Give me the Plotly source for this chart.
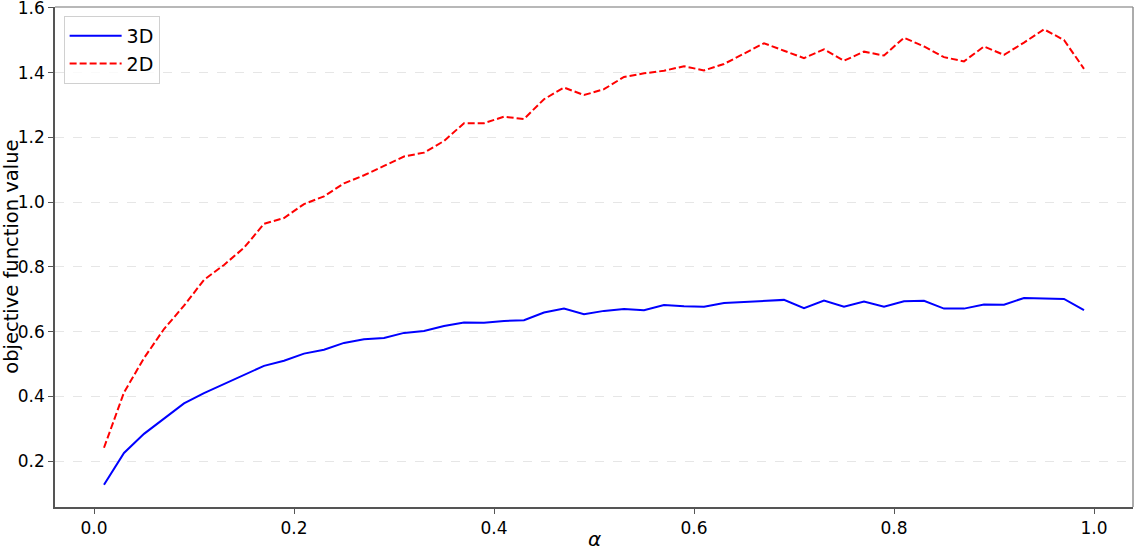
import plotly.graph_objects as go

alpha = [round(0.01 + 0.02 * i, 2) for i in range(50)]

obj_3d = [0.127, 0.225, 0.284, 0.33, 0.378, 0.41, 0.438, 0.464, 0.494, 0.51,
          0.532, 0.544, 0.565, 0.576, 0.58, 0.596, 0.602, 0.617, 0.628, 0.627,
          0.633, 0.635, 0.659, 0.671, 0.654, 0.664, 0.67, 0.666, 0.682, 0.678,
          0.677, 0.688, 0.691, 0.693, 0.698, 0.672, 0.696, 0.677, 0.693, 0.677,
          0.694, 0.695, 0.671, 0.671, 0.684, 0.683, 0.704, 0.702, 0.701, 0.666]

obj_2d = [0.241, 0.412, 0.518, 0.608, 0.68, 0.76, 0.806, 0.859, 0.933, 0.951,
          0.994, 1.018, 1.058, 1.083, 1.112, 1.141, 1.153, 1.189, 1.244, 1.244,
          1.264, 1.257, 1.318, 1.354, 1.331, 1.349, 1.387, 1.398, 1.406, 1.42,
          1.407, 1.427, 1.459, 1.491, 1.468, 1.445, 1.472, 1.437, 1.465, 1.453,
          1.508, 1.481, 1.448, 1.435, 1.481, 1.455, 1.493, 1.534, 1.501, 1.412]

x_ticks = [0.0, 0.2, 0.4, 0.6, 0.8, 1.0]
y_ticks = [0.2, 0.4, 0.6, 0.8, 1.0, 1.2, 1.4, 1.6]

fig = go.Figure()
fig.add_trace(go.Scatter(x=alpha, y=obj_3d, mode="lines", name="3D",
                         line=dict(color="blue", width=2)))
fig.add_trace(go.Scatter(x=alpha, y=obj_2d, mode="lines", name="2D",
                         line=dict(color="red", width=2, dash="7px,3px")))

font_family = "DejaVu Sans"
fig.update_layout(
    width=1136, height=548,
    margin=dict(l=55, r=3, t=7, b=41),
    paper_bgcolor="white", plot_bgcolor="white",
    font=dict(family=font_family, size=17, color="black"),
    showlegend=True,
    legend=dict(x=0.008, y=0.982, xanchor="left", yanchor="top",
                bgcolor="rgba(255,255,255,0.8)", bordercolor="#d0d0d0", borderwidth=1,
                itemwidth=52,
                font=dict(size=19, family=font_family), tracegroupgap=0),
    xaxis=dict(range=[-0.039, 1.039], tickvals=x_ticks,
               ticktext=[f"{v:.1f}" for v in x_ticks],
               showgrid=False, zeroline=False, automargin=False,
               showline=True, linecolor="#555555", linewidth=1.5,
               ticks="outside", ticklen=5, tickcolor="#555555",
               tickfont=dict(size=17)),
    yaxis=dict(range=[0.058, 1.603], tickvals=y_ticks,
               ticktext=[f"{v:.1f}" for v in y_ticks],
               showgrid=True, gridcolor="#e6e6e6", griddash="dash", gridwidth=1,
               zeroline=False, automargin=False, ticklabeloverflow="allow",
               showline=True, linecolor="#555555", linewidth=1.5,
               ticks="outside", ticklen=5, tickcolor="#555555",
               tickfont=dict(size=17)),
)

# axis titles
fig.add_annotation(text="<i>α</i>", xref="paper", yref="paper", x=0.5, y=-0.064,
                   xanchor="center", yanchor="middle", showarrow=False,
                   font=dict(size=20, family=font_family))
fig.add_annotation(text="objective function value", xref="paper", yref="paper",
                   x=-0.041, y=0.5, xanchor="center", yanchor="middle", textangle=-90,
                   showarrow=False, font=dict(size=19.5, family=font_family))

# lighter top and right frame edges
fig.add_shape(type="line", xref="paper", yref="paper", x0=0, x1=1, y0=1, y1=1,
              line=dict(color="#a0a0a0", width=1.5))
fig.add_shape(type="line", xref="paper", yref="paper", x0=1, x1=1, y0=0, y1=1,
              line=dict(color="#909090", width=1.5))

fig.write_html("out.html", config={"displayModeBar": False},
               post_script="document.body.style.margin='0px';document.body.style.overflow='hidden';")
